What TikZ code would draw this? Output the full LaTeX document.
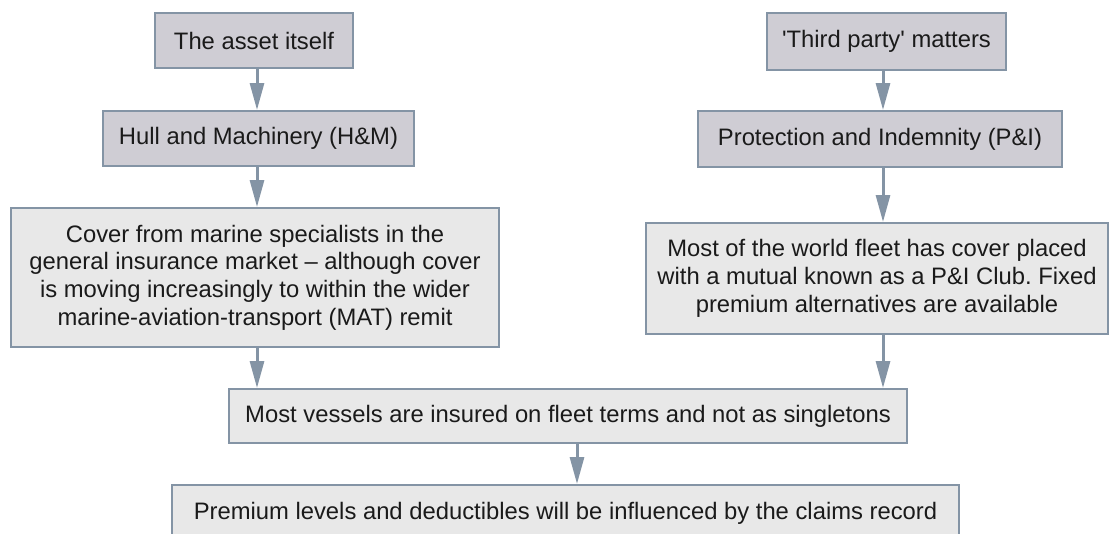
\documentclass[tikz,border=0pt]{standalone}
\usepackage{fontspec}
\setmainfont{Liberation Sans}
\usetikzlibrary{arrows.meta}
\definecolor{edgec}{HTML}{8494A5}
\definecolor{topfill}{HTML}{CFCDD4}
\definecolor{lowfill}{HTML}{E8E8E8}
\definecolor{txt}{HTML}{1A1A1A}
\tikzset{
  boxbase/.style={draw=edgec, line width=2pt, inner sep=0pt, align=center,
    text=txt, font=\fontsize{23.8}{27.7}\selectfont},
  topbox/.style={boxbase, fill=topfill},
  lowbox/.style={boxbase, fill=lowfill},
  arr/.style={draw=edgec, line width=3pt, -{Triangle[length=27pt,width=14pt]}},
}
\frenchspacing
\begin{document}
\begin{tikzpicture}[x=1pt,y=-1pt]
\useasboundingbox (0,0) rectangle (1110,533);
\coordinate (cl) at (257,0);
\coordinate (cr) at (883,0);
\coordinate (cm) at (577,0);
\node[topbox, minimum width=198pt, minimum height=55pt] (b1) at (254,40.5) {The asset itself};
\node[topbox, minimum width=311pt, minimum height=55pt] (b2) at (258.5,138.5) {Hull and Machinery (H\&M)};
\node[lowbox, minimum width=488pt, minimum height=139pt] (b3) at (255,277.5) {Cover from marine specialists in the\\general insurance market -- although cover\\is moving increasingly to within the wider\\marine-aviation-transport (MAT) remit};
\node[topbox, minimum width=239pt, minimum height=57pt] (b4) at (886.5,41.5) {\textquotesingle Third party\textquotesingle\ matters};
\node[topbox, minimum width=364pt, minimum height=56pt] (b5) at (880,139) {Protection and Indemnity (P\&I)};
\node[lowbox, minimum width=462pt, minimum height=111pt] (b6) at (877,278.5) {Most of the world fleet has cover placed\\with a mutual known as a P\&I Club. Fixed\\premium alternatives are available};
\node[lowbox, minimum width=678pt, minimum height=54pt] (b7) at (568,416) {Most vessels are insured on fleet terms and not as singletons};
\node[lowbox, minimum width=787pt, minimum height=56pt] (b8) at (565.5,513) {Premium levels and deductibles will be influenced by the claims record};
\draw[arr] (b1.south -| cl) -- (b2.north -| cl);
\draw[arr] (b2.south -| cl) -- (b3.north -| cl);
\draw[arr] (b3.south -| cl) -- (b7.north -| cl);
\draw[arr] (b4.south -| cr) -- (b5.north -| cr);
\draw[arr] (b5.south -| cr) -- (b6.north -| cr);
\draw[arr] (b6.south -| cr) -- (b7.north -| cr);
\draw[arr] (b7.south -| cm) -- (b8.north -| cm);
\end{tikzpicture}
\end{document}
